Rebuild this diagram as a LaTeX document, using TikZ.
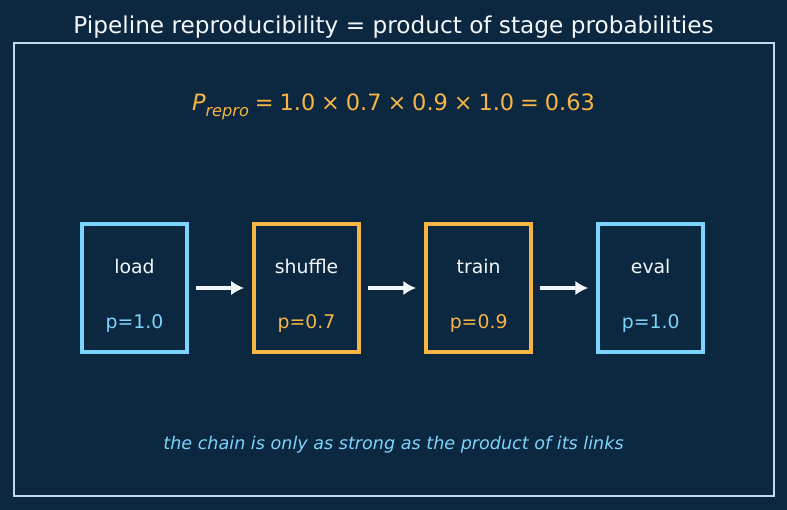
\documentclass[tikz,border=0pt]{standalone}
\usepackage{fontspec}
\setmainfont{DejaVu Sans}
\usetikzlibrary{arrows.meta}
\usetikzlibrary{positioning}
\usepackage{xcolor}
\definecolor{bgnavy}{HTML}{0C2840}
\definecolor{skyblue}{HTML}{7DD3FC}
\definecolor{amber}{HTML}{F8B544}
\definecolor{framegrey}{HTML}{C2DAEA}
\definecolor{snow}{HTML}{F4F7FA}

\begin{document}
\begin{tikzpicture}[
        x=0.025cm, y=-0.025cm,
        stage/.style={draw=#1, line width=3pt, minimum width=2.62cm,
          minimum height=3.2cm, inner sep=0pt},
        stagename/.style={font=\fontsize{13.4}{16}\selectfont, text=snow},
        prob/.style={font=\fontsize{13.4}{16}\selectfont, text=#1},
        flow/.style={draw=snow, line width=2.5pt, shorten <=0.175cm, shorten >=0.2cm,
          -{Latex[length=3.2mm, width=3.6mm]}},
        frame/.style={draw=framegrey, line width=1.5pt},
        titlelbl/.style={font=\fontsize{16.5}{20}\selectfont, text=snow},
        formula/.style={font=\fontsize{16}{20}\selectfont, text=amber},
        annot/.style={font=\fontsize{12.5}{15}\selectfont\itshape, text=skyblue},
      ]

      % === Canvas ===
      \fill[bgnavy] (0,0) rectangle (787,510);
      \useasboundingbox (0,0) rectangle (787,510);
      \draw[frame] (14,43) rectangle (774,496);

      % === Title and formula ===
      \node[titlelbl] (title) at (393.5,27.5)
        {Pipeline reproducibility = product of stage probabilities};
      \node[formula] (prod) at (393.5,106.5)
        {\spaceskip=0.26em\relax
         \textit{P}\raisebox{-0.5ex}{\fontsize{11.5}{12}\selectfont\itshape repro} = 1.0 × 0.7 × 0.9 × 1.0 = 0.63};

      % === Stages ===
      \node[stage=skyblue] (load) at (134.5,288) {};
      \node[stage=amber, right=1.575cm of load] (shuffle) {};
      \node[stage=amber, right=1.575cm of shuffle] (train) {};
      \node[stage=skyblue, right=1.575cm of train] (eval) {};

      \node[stagename] (loadname) at ([yshift=0.55cm]load.center) {load};
      \node[stagename] (shufflename) at ([yshift=0.55cm]shuffle.center) {shuffle};
      \node[stagename] (trainname) at ([yshift=0.55cm]train.center) {train};
      \node[stagename] (evalname) at ([yshift=0.55cm]eval.center) {eval};

      \node[prob=skyblue] (loadp) at ([yshift=-0.88cm]load.center) {p=1.0};
      \node[prob=amber] (shufflep) at ([yshift=-0.88cm]shuffle.center) {p=0.7};
      \node[prob=amber] (trainp) at ([yshift=-0.88cm]train.center) {p=0.9};
      \node[prob=skyblue] (evalp) at ([yshift=-0.88cm]eval.center) {p=1.0};

      \draw[flow] (load) -- (shuffle);
      \draw[flow] (shuffle) -- (train);
      \draw[flow] (train) -- (eval);

      % === Footnote ===
      \node[annot] (note) at (393.5,445)
        {the chain is only as strong as the product of its links};

      \end{tikzpicture}
\end{document}
